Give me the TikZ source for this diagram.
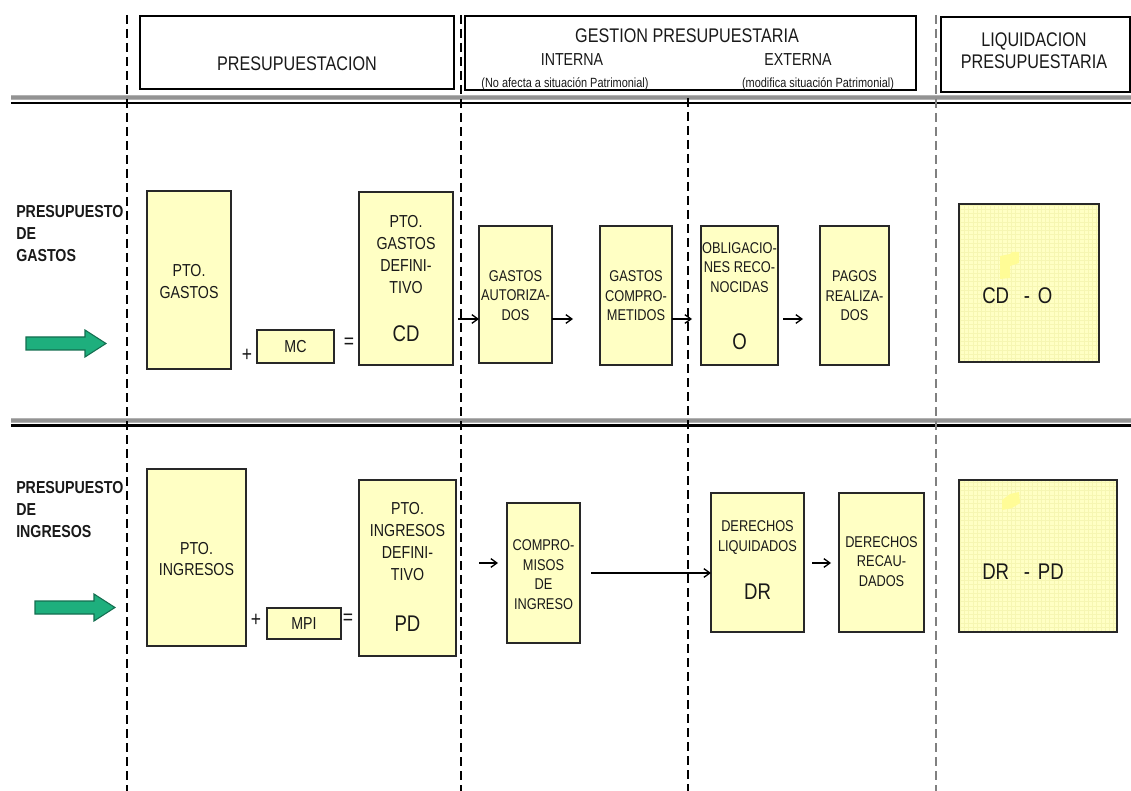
\documentclass[tikz,border=0pt]{standalone}
\usepackage{fontspec}
\setmainfont{Liberation Sans}[FakeStretch=0.82]
\usetikzlibrary{arrows.meta}
\definecolor{boxfill}{RGB}{255,255,196}
\definecolor{boxline}{RGB}{40,40,40}
\definecolor{txtc}{RGB}{25,25,25}
\definecolor{arrgreen}{RGB}{30,175,125}
\definecolor{arrgreenD}{RGB}{20,110,80}
\definecolor{gridc}{RGB}{246,246,178}
\definecolor{blobc}{RGB}{255,252,150}
\begin{document}
\begin{tikzpicture}[x=0.75pt,y=-0.75pt,
  rbox/.style n args={4}{minimum width={(#3-#1)*0.75pt}, minimum height={(#4-#2)*0.75pt}, at={({(#1+#3)/2},{(#2+#4)/2})}},
  hbox/.style={draw=black, line width=1.1pt, inner sep=0pt, outer sep=0pt},
  box/.style={draw=boxline, fill=boxfill, line width=1.1pt, inner sep=0pt, outer sep=0pt, text=txtc, font=\fontsize{13}{16}\selectfont},
  htxt/.style={inner sep=0pt, align=center, text=txtc, font=\fontsize{14.8}{16.5}\selectfont},
  stxt/.style={inner sep=0pt, align=center, text=txtc, font=\fontsize{13}{15}\selectfont},
  ptxt/.style={inner sep=0pt, align=center, text=txtc, font=\fontsize{10}{12}\selectfont},
  rlab/.style={inner sep=0pt, anchor=west, align=left, text=txtc, font=\bfseries\fontsize{13}{16.5}\selectfont},
  btxt/.style={inner sep=0pt, align=center, text=txtc, font=\fontsize{13}{16.3}\selectfont},
  optxt/.style={inner sep=0pt, align=center, text=txtc, font=\fontsize{16}{18}\selectfont},
  mtxt/.style={inner sep=0pt, align=center, text=txtc, font=\fontsize{11.7}{14.6}\selectfont},
  bigtxt/.style={inner sep=0pt, align=center, text=txtc, font=\fontsize{17}{20}\selectfont},
  dline/.style={line width=1pt, dash pattern=on 7pt off 3.5pt},
  arr/.style={line width=1pt, -{Straight Barb[length=4.5pt,width=6.5pt]}},
  garrow/.style={fill=arrgreen, draw=arrgreenD, line width=0.8pt}
]
\useasboundingbox (0,0) rectangle (1131,791);

% separator double lines
\draw[line width=4pt, gray!60] (11,97.5) -- (1131,97.5);
\draw[line width=1.8pt, gray!85] (11,97.5) -- (1131,97.5);
\draw[line width=1.7pt, black] (11,103) -- (1131,103);
\draw[line width=4pt, gray!60] (11,420.5) -- (1131,420.5);
\draw[line width=1.8pt, gray!85] (11,420.5) -- (1131,420.5);
\draw[line width=1.7pt, black] (11,425.5) -- (1131,425.5);

% dashed column separators
\draw[dline] (127,15) -- (127,791);
\draw[dline] (461,15) -- (461,791);
\draw[dline] (688,98) -- (688,791);
\draw[dline, gray] (936,15) -- (936,791);

% header
\node[hbox, rbox={140}{16}{454}{89}] (hp) {};
\node[htxt] (hpt) at (297,64) {PRESUPUESTACION};
\node[hbox, rbox={465}{16}{916}{90}] (hg) {};
\node[htxt] (hgt) at (687,36) {GESTION PRESUPUESTARIA};
\node[stxt] (hint) at (572,60) {INTERNA};
\node[stxt] (hext) at (798,60) {EXTERNA};
\node[ptxt] (pint) at (565,84) {(No afecta a situación Patrimonial)};
\node[ptxt] (pext) at (818,84) {(modifica situación Patrimonial)};
\node[hbox, rbox={941}{17}{1130}{92}] (hl) {};
\node[htxt] (hlt) at (1034,51) {LIQUIDACION\\PRESUPUESTARIA};

% row labels
\node[rlab] (rg) at (16,234) {PRESUPUESTO\\DE\\GASTOS};
\node[rlab] (ri) at (16,510) {PRESUPUESTO\\DE\\INGRESOS};

% green arrows
\filldraw[garrow] (26,337) -- (85,337) -- (85,330) -- (106,343.5) -- (85,357) -- (85,350) -- (26,350) -- cycle;
\filldraw[garrow] (35,601) -- (94,601) -- (94,594) -- (115,607.5) -- (94,621) -- (94,614) -- (35,614) -- cycle;

% ---------- GASTOS row ----------
\node[box, rbox={147}{191}{231}{369}] (pg) {};
\node[btxt] (pgt) at (189,281.5) {PTO.\\GASTOS};
\node[optxt] (plus1) at (247,355) {+};
\node[box, rbox={257}{330}{334}{363}] (mc) {MC};
\node[optxt] (eq1) at (349,343) {=};
\node[box, rbox={359}{192}{453}{365}] (pgd) {};
\node[btxt] (pgdt) at (406,254.5) {PTO.\\GASTOS\\DEFINI-\\TIVO};
\node[bigtxt] (cd) at (406,334) {CD};

\node[box, rbox={479}{226}{552}{363}] (ga) {};
\node[mtxt] (gat) at (515.5,295.5) {GASTOS\\AUTORIZA-\\DOS};
\node[box, rbox={600}{226}{672}{365}] (gc) {};
\node[mtxt] (gct) at (636,296) {GASTOS\\COMPRO-\\METIDOS};
\node[box, rbox={701}{226}{778}{365}] (ob) {};
\node[mtxt] (obt) at (739.5,267.5) {OBLIGACIO-\\NES RECO-\\NOCIDAS};
\node[bigtxt] (oo) at (739.5,342) {O};
\node[box, rbox={820}{226}{889}{365}] (pr) {};
\node[mtxt] (prt) at (854.5,296) {PAGOS\\REALIZA-\\DOS};

\node[box, rbox={959}{204}{1099}{362}] (lq1) {};
\begin{scope}
  \clip (lq1.south west) rectangle (lq1.north east);
  \draw[gridc, line width=0.3pt, step=3.2pt] (lq1.south west) grid (lq1.north east);
\end{scope}
\draw[boxline, line width=1.1pt] (lq1.south west) rectangle (lq1.north east);
\fill[blobc] (1000,256) -- (1010,254) -- (1012,252) -- (1019,252) -- (1019,263) -- (1010,266) -- (1010,278) -- (1000,279) -- cycle;
\node[bigtxt, anchor=west] (lq1t) at (982,296) {CD\hspace{11pt}-\hspace{6pt}O};

% arrows gastos
\coordinate (a1s) at (458,319);
\coordinate (a2e) at (573,319);
\coordinate (a3e) at (692,319);
\coordinate (a4s) at (783,319);
\coordinate (a4e) at (803,319);
\draw[arr] (a1s) -- (a1s -| ga.west);
\draw[arr] (ga.east |- a2e) -- (a2e);
\draw[arr] (gc.east |- a3e) -- (a3e);
\draw[arr] (a4s) -- (a4e);

% ---------- INGRESOS row ----------
\node[box, rbox={147}{469}{246}{646}] (pi) {};
\node[btxt] (pit) at (196.5,559) {PTO.\\INGRESOS};
\node[optxt] (plus2) at (256,620) {+};
\node[box, rbox={267}{608}{341}{639}] (mpi) {MPI};
\node[optxt] (eq2) at (348,619) {=};
\node[box, rbox={359}{480}{456}{656}] (pid) {};
\node[btxt] (pidt) at (407.5,541.5) {PTO.\\INGRESOS\\DEFINI-\\TIVO};
\node[bigtxt] (pd) at (407.5,624) {PD};

\node[box, rbox={507}{503}{580}{643}] (comp) {};
\node[mtxt] (compt) at (543.5,574.5) {COMPRO-\\MISOS\\DE\\INGRESO};
\node[box, rbox={711}{493}{804}{632}] (dl) {};
\node[mtxt] (dlt) at (757.5,537.5) {DERECHOS\\LIQUIDADOS};
\node[bigtxt] (dr) at (757.5,592) {DR};
\node[box, rbox={839}{493}{924}{632}] (drc) {};
\node[mtxt] (drct) at (881.5,561.5) {DERECHOS\\RECAU-\\DADOS};

\node[box, rbox={959}{480}{1117}{632}] (lq2) {};
\begin{scope}
  \clip (lq2.south west) rectangle (lq2.north east);
  \draw[gridc, line width=0.3pt, step=3.2pt] (lq2.south west) grid (lq2.north east);
\end{scope}
\draw[boxline, line width=1.1pt] (lq2.south west) rectangle (lq2.north east);
\fill[blobc] (1002,500) -- (1010,494) -- (1019,492) -- (1020,503) -- (1012,508) -- (1002,510) -- cycle;
\node[bigtxt, anchor=west] (lq2t) at (982,572) {DR\hspace{11pt}-\hspace{6pt}PD};

% arrows ingresos
\coordinate (b1s) at (479,563);
\coordinate (b1e) at (498,563);
\coordinate (b2s) at (591,573);
\coordinate (b3s) at (812,563);
\coordinate (b3e) at (831,563);
\draw[arr] (b1s) -- (b1e);
\draw[arr] (b2s) -- (b2s -| dl.west);
\draw[arr] (b3s) -- (b3e);
\end{tikzpicture}
\end{document}
